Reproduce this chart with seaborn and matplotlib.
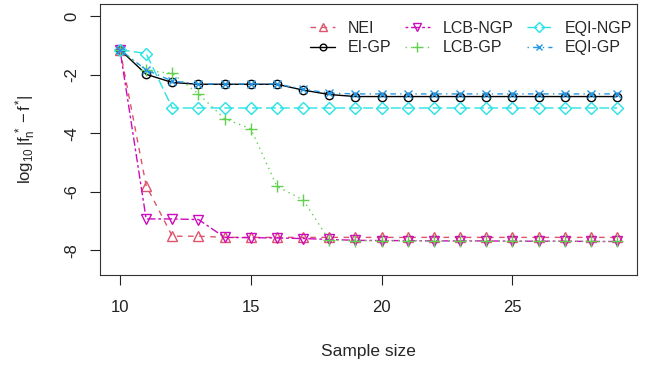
import numpy as np
import pandas as pd
import matplotlib
matplotlib.use("Agg")
import matplotlib.pyplot as plt
import seaborn as sns

sample_size = list(range(10, 30))

nei = [-1.15, -5.79, -7.52, -7.52] + [-7.56] * 16
ei_gp = [-1.15, -1.99, -2.27, -2.33, -2.33, -2.33, -2.33, -2.53, -2.68] + [-2.75] * 11
lcb_ngp = [-1.15, -6.93, -6.93, -6.95, -7.56, -7.57, -7.58, -7.60, -7.63, -7.66,
           -7.67, -7.67, -7.68, -7.68, -7.68, -7.69, -7.69, -7.69, -7.70, -7.70]
lcb_gp = [-1.15, -1.86, -1.96, -2.66, -3.51, -3.85, -5.82, -6.28, -7.66,
          -7.67, -7.67, -7.67, -7.68, -7.68, -7.68, -7.69, -7.69, -7.69, -7.70, -7.70]
eqi_ngp = [-1.15, -1.28] + [-3.14] * 18
eqi_gp = [-1.15, -1.84, -2.22, -2.32, -2.32, -2.32, -2.32, -2.50, -2.63] + [-2.66] * 11

series_names = ["NEI", "EI-GP", "LCB-NGP", "LCB-GP", "EQI-NGP", "EQI-GP"]
series_values = [nei, ei_gp, lcb_ngp, lcb_gp, eqi_ngp, eqi_gp]

# R default palette / lty / pch look
styles = {
    "NEI":     dict(color="#DF536B", linestyle=(0, (4, 4)), marker="^", ms=7),
    "EI-GP":   dict(color="black", linestyle="-", marker="o", ms=6),
    "LCB-NGP": dict(color="#CD0BBC", linestyle=(0, (2, 2, 6, 2)), marker="v", ms=7),
    "LCB-GP":  dict(color="#61D04F", linestyle=(0, (1, 3)), marker="+", ms=8.5),
    "EQI-NGP": dict(color="#28E2E5", linestyle=(0, (7, 3)), marker="D", ms=6),
    "EQI-GP":  dict(color="#2297E6", linestyle=(0, (1, 3, 4, 3)), marker="x", ms=6),
}

sns.set_style("ticks")
plt.rcParams["font.family"] = ["Liberation Sans", "DejaVu Sans"]
plt.rcParams["mathtext.fontset"] = "custom"
plt.rcParams["mathtext.rm"] = "Liberation Sans"
plt.rcParams["mathtext.it"] = "Liberation Sans"

fig = plt.figure(figsize=(6.5, 3.66), dpi=100)
ax = fig.add_axes([0.154, 0.249, 0.826, 0.74])

for name, vals in zip(series_names, series_values):
    df = pd.DataFrame({"x": sample_size, "y": vals})
    st = styles[name]
    sns.lineplot(data=df, x="x", y="y", ax=ax, color=st["color"],
                 linestyle=st["linestyle"], marker=st["marker"], markersize=st["ms"],
                 markerfacecolor="none", markeredgecolor=st["color"],
                 markeredgewidth=1.0, linewidth=1.0, label=name)

ax.set_xlim(9.24, 29.76)
ax.set_ylim(-8.84, 0.41)
ax.set_xticks([10, 15, 20, 25])
ax.set_yticks([0, -2, -4, -6, -8])
ax.set_yticklabels(["0", "-2", "-4", "-6", "-8"], rotation=90, va="center")
ax.tick_params(direction="out", length=7, width=0.8, labelsize=12, colors="#222222")
ax.tick_params(axis="x", pad=11)
ax.tick_params(axis="y", pad=8)
for sp in ax.spines.values():
    sp.set_visible(True)
    sp.set_linewidth(0.8)
    sp.set_color("#333333")

ax.set_xlabel("Sample size", fontsize=12.5, labelpad=21)
ax.set_ylabel(r"$\log_{10}|f_n^{\,*}-f^{*}|$", fontsize=12, labelpad=19)

ax.legend(ncol=3, frameon=False, loc="upper right", bbox_to_anchor=(1.012, 0.98),
          fontsize=11.5, markerscale=0.8, handlelength=1.6, handletextpad=0.8,
          columnspacing=0.8, labelspacing=0.3, borderaxespad=0.3)

fig.savefig("out.png", dpi=100)
